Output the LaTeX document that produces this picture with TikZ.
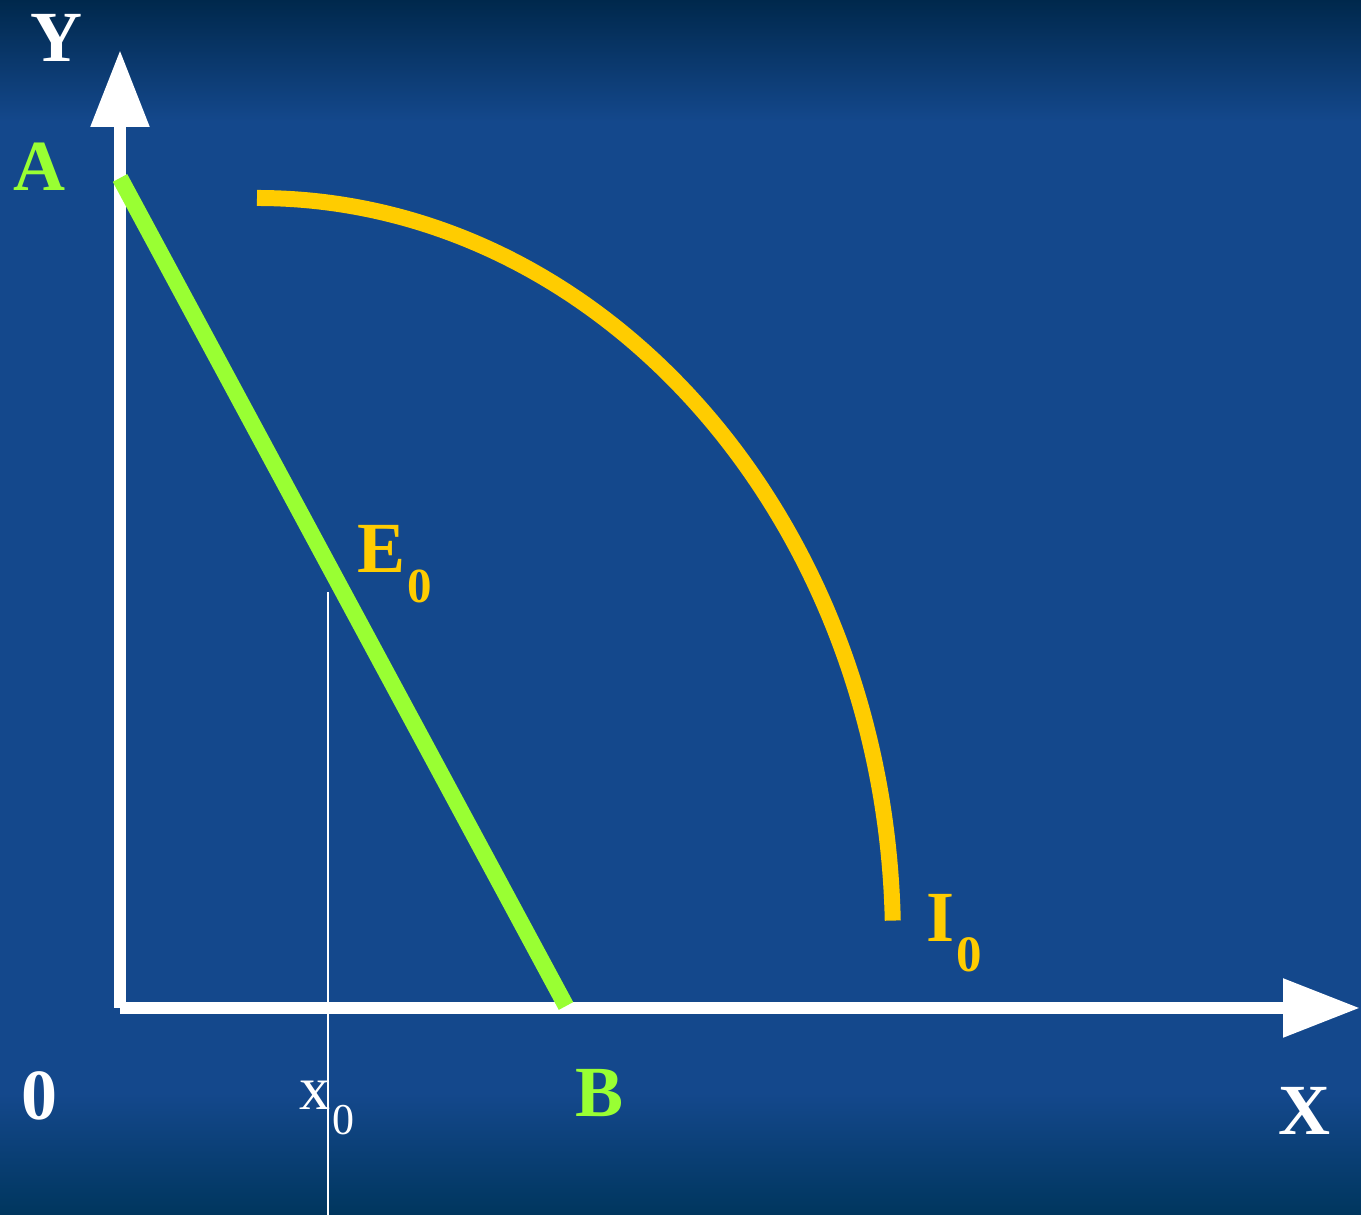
\documentclass[tikz,border=0pt]{standalone}
\usepackage{fontspec}
\setmainfont{Liberation Serif}
\usetikzlibrary{arrows.meta}
\definecolor{grline}{RGB}{153,255,51}
\definecolor{orline}{RGB}{255,204,0}
\definecolor{bgtop}{RGB}{0,40,76}
\definecolor{bgmid}{RGB}{20,72,140}
\definecolor{bgbot}{RGB}{0,54,94}
\pgfdeclareverticalshading{slidebg}{100bp}{color(0bp)=(bgbot); color(25bp)=(bgbot); color(30bp)=(bgmid); color(70bp)=(bgmid); color(75bp)=(bgtop); color(100bp)=(bgtop)}
% tiefgestellte Ziffer
\newcommand{\lowidx}[3]{\kern1pt\raisebox{#1}{\fontsize{#2}{#2}\selectfont #3}}
\tikzset{
  lbl/.style={inner sep=0pt,anchor=base,font=\fontsize{36}{36}\selectfont\bfseries},
  axis/.style={white,line width=6pt,-{Triangle[length=38.5pt,width=28pt]}},
}
\begin{document}
\begin{tikzpicture}[x=0.5pt,y=0.5pt]
% Hintergrund
\fill[shading=slidebg] (0,0) rectangle (1361,1215);
\useasboundingbox (0,0) rectangle (1361,1215);
% Achsen und Punkte
\coordinate (O)  at ( 120, 207);
\coordinate (Xt) at (1360, 207);
\coordinate (Yt) at ( 120,1165);
\coordinate (A)  at ( 120,1037);
\coordinate (B)  at ( 566, 209);
\coordinate (I1) at ( 257,1017);
\coordinate (Xo) at ( 328, 623);
\coordinate (Xu) at ( 328,   0);
% Achsen (weiss)
\draw[axis] (O) -- (Yt);
\draw[axis] (O) -- (Xt);
% Hilfslinie bei x0
\draw[white,line width=1pt] (Xo) -- (Xu);
% Gerade AB (gruen)
\draw[grline,line width=8.2pt] (A) -- (B);
% Bogen I0 (gelb)
\draw[orline,line width=8pt] (I1) arc[start angle=90,end angle=1.5,x radius=636,y radius=742];
% Beschriftungen
\node[lbl,white]  (ly) at (  56,1153) {Y};
\node[lbl,grline] (la) at (  39,1024) {A};
\node[lbl,orline,anchor=base west] (le) at (357,642) {E\lowidx{-15pt}{24.5}{0}};
\node[lbl,orline,anchor=base west] (li) at (926,273) {I\lowidx{-15pt}{25.5}{0}};
\node[lbl,white]  (lo) at (  39,  95) {0};
\node[lbl,white,anchor=base west,font=\fontsize{31}{31}\selectfont] (lx) at (299,105) {x\lowidx{-12.5pt}{22}{0}};
\node[lbl,grline] (lb) at ( 600,  98) {B};
\node[lbl,white]  (lX) at (1304,  80) {X};
\end{tikzpicture}
\end{document}
